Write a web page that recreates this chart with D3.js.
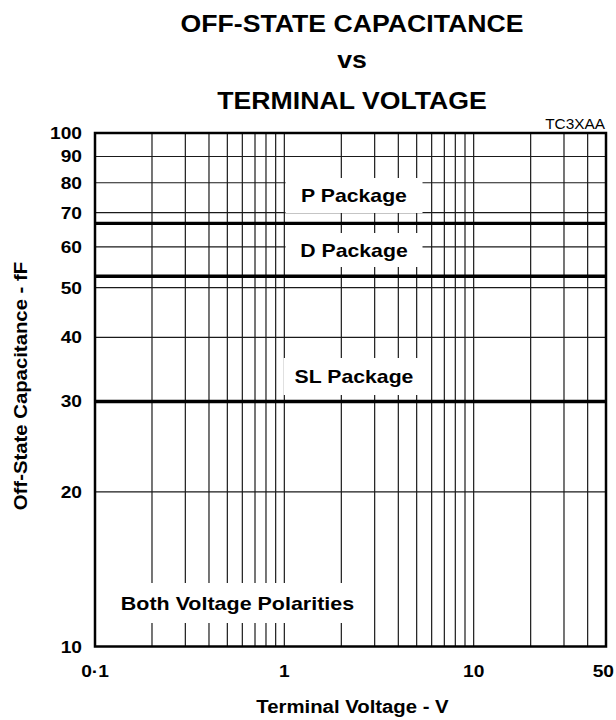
<!DOCTYPE html>
<html>
<head>
<meta charset="utf-8">
<script src="https://cdn.jsdelivr.net/npm/d3@7"></script>
<style>
  body { margin: 0; background: #fff; }
  svg { display: block; }
  text { font-family: "Liberation Sans", Arial, Helvetica, sans-serif; fill: #000; }
</style>
</head>
<body>
<div id="chart"></div>
<script>
// chart data
const titleLines = ["OFF-STATE CAPACITANCE", "vs", "TERMINAL VOLTAGE"];
const packages = ["P Package", "D Package", "SL Package"];
const capacitance = [66.7, 52.6, 30];          // fF, flat over voltage
const voltageRange = [0.1, 50];                 // V
const xTicks = [0.1, 1, 10, 50];
const xTickLabels = ["0·1", "1", "10", "50"];
const yTicks = [10, 20, 30, 40, 50, 60, 70, 80, 90, 100];
const yTickLabels = ["10", "20", "30", "40", "50", "60", "70", "80", "90", "100"];
const xGrid = [0.2, 0.3, 0.4, 0.5, 0.6, 0.7, 0.8, 0.9, 1, 2, 3, 4, 5, 6, 7, 8, 9, 10, 20, 30, 40];
const yGrid = [20, 30, 40, 50, 60, 70, 80, 90];
const noteText = "Both Voltage Polarities";
const figCode = "TC3XAA";

// layout
var W = 616, H = 720;
var margin = { top: 133, right: 10, bottom: 73.5, left: 95 },
    width = W - margin.left - margin.right,
    height = H - margin.top - margin.bottom;
var SX = 1.13; // source artwork is stretched horizontally

var svg = d3.select("#chart").append("svg")
    .attr("width", W)
    .attr("height", H);

var x = d3.scaleLog().domain([0.1, 50]).range([margin.left, margin.left + width]);
var y = d3.scaleLog().domain([10, 100]).range([margin.top + height, margin.top]);

// text with horizontal stretch
const stretchText = (parent, tx, ty, str, size, anchor, weight, sx, rot) => {
    var g = parent.append("g")
        .attr("transform", "translate(" + tx + "," + ty + ")" + (rot ? " rotate(" + rot + ")" : ""));
    g.append("text")
        .attr("transform", "scale(" + (sx || SX) + ",1)")
        .attr("text-anchor", anchor || "middle")
        .style("font-size", size + "px")
        .style("font-weight", weight || "bold")
        .text(str);
    return g;
}

// title
var titleY = [31.5, 68, 108.5];
titleLines.forEach((t, i) => stretchText(svg, 352, titleY[i], t, 23.6));
stretchText(svg, 605, 128.5, figCode, 14, "end", "normal", 1.1);

// grid
svg.append("g").selectAll("line")
    .data(xGrid)
    .enter().append("line")
    .attr("x1", d => x(d)).attr("x2", d => x(d))
    .attr("y1", y(10)).attr("y2", y(100))
    .attr("stroke", "#1a1a1a")
    .attr("stroke-width", 1.2);

svg.append("g").selectAll("line")
    .data(yGrid)
    .enter().append("line")
    .attr("x1", x(0.1)).attr("x2", x(50))
    .attr("y1", d => y(d)).attr("y2", d => y(d))
    .attr("stroke", "#1a1a1a")
    .attr("stroke-width", 1.2);

// capacitance lines
var line = d3.line().x(d => x(d[0])).y(d => y(d[1]));
svg.append("g").selectAll("path")
    .data(capacitance)
    .enter().append("path")
    .attr("d", d => line(voltageRange.map(v => [v, d])))
    .attr("fill", "none")
    .attr("stroke", "#000")
    .attr("stroke-width", 3.3);

// labels on white boxes
var labelBoxes = [
    { cx: 354, cy: 195.5, w: 137, h: 35 },
    { cx: 354, cy: 250, w: 137, h: 34 },
    { cx: 354, cy: 376.5, w: 141, h: 37 },
    { cx: 237.5, cy: 603, w: 266, h: 40 }
];
var labelTexts = packages.concat([noteText]);
labelTexts.forEach((t, i) => {
    var b = labelBoxes[i];
    svg.append("rect")
        .attr("x", b.cx - b.w / 2).attr("y", b.cy - b.h / 2)
        .attr("width", b.w).attr("height", b.h)
        .attr("fill", "#fff");
    stretchText(svg, b.cx, b.cy + 6.8, t, i == 3 ? 19 : 18.8);
});

// frame
svg.append("rect")
    .attr("x", x(0.1)).attr("y", y(100))
    .attr("width", x(50) - x(0.1))
    .attr("height", y(10) - y(100))
    .attr("fill", "none")
    .attr("stroke", "#000")
    .attr("stroke-width", 2.5);

// y tick labels
yTicks.forEach((v, i) => stretchText(svg, 82, y(v) + 6, yTickLabels[i], 17, "end"));

// x tick labels
xTicks.forEach((v, i) => {
    var g = stretchText(svg, x(v), 677, xTickLabels[i], 17, "middle");
    var bb = g.node().getBoundingClientRect();
    if (bb.right > W - 2) g.attr("transform", "translate(" + (x(v) - (bb.right - W + 2)) + ",677)");
});

// axis titles
stretchText(svg, 352.5, 713, "Terminal Voltage - V", 18);
stretchText(svg, 27, 386, "Off-State Capacitance - fF", 18, "middle", "bold", SX, -90);
</script>
</body>
</html>
